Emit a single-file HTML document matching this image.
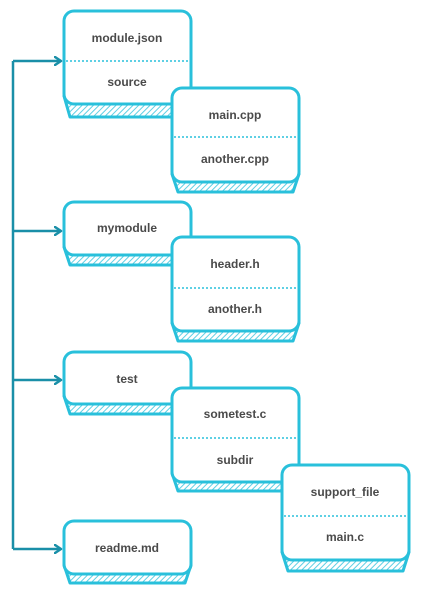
<!DOCTYPE html>
<html><head><meta charset="utf-8"><style>
html,body{margin:0;padding:0;background:#fff;}
svg{display:block;}
text{font-family:"Liberation Sans",sans-serif;font-size:12px;fill:#4a4a4a;text-anchor:middle;font-weight:bold;}
</style></head><body>
<svg width="423" height="597" viewBox="0 0 423 597" xmlns="http://www.w3.org/2000/svg">
<defs>
<pattern id="h" width="4" height="4" patternUnits="userSpaceOnUse" patternTransform="rotate(45)">
<rect width="4" height="4" fill="#fff"/>
<line x1="0" y1="0" x2="0" y2="4" stroke="#5fcfe4" stroke-width="2"/>
</pattern>
<marker id="ar" markerWidth="10" markerHeight="10" refX="7" refY="5" orient="auto" markerUnits="userSpaceOnUse">
<path d="M1,1 L7,5 L1,9" fill="none" stroke="#1a8fa8" stroke-width="2.5" stroke-linecap="round" stroke-linejoin="round"/>
</marker>
</defs>
<g fill="none" stroke="#1a8fa8" stroke-width="2.5">
<path d="M13,61 L13,549"/>
<path d="M13,61 L61,61" marker-end="url(#ar)"/>
<path d="M13,231 L61,231" marker-end="url(#ar)"/>
<path d="M13,380 L61,380" marker-end="url(#ar)"/>
<path d="M13,549 L61,549" marker-end="url(#ar)"/>
</g>
<g stroke="#29c0db" stroke-width="3" stroke-linejoin="round">
<!-- A -->
<path d="M64,96 L191,96 L185,117 L70,117 Z" fill="url(#h)"/>
<rect x="64" y="11" width="127" height="93" rx="10" fill="#fff"/>
<line x1="66" y1="61" x2="189" y2="61" stroke-width="1.5" stroke-dasharray="2,2"/>
<!-- B -->
<path d="M172,174 L299,174 L293,192 L178,192 Z" fill="url(#h)"/>
<rect x="172" y="88" width="127" height="94" rx="10" fill="#fff"/>
<line x1="174" y1="137" x2="297" y2="137" stroke-width="1.5" stroke-dasharray="2,2"/>
<!-- C -->
<path d="M64,247 L191,247 L185,265 L70,265 Z" fill="url(#h)"/>
<rect x="64" y="202" width="127" height="53" rx="10" fill="#fff"/>
<!-- D -->
<path d="M172,323 L299,323 L293,341 L178,341 Z" fill="url(#h)"/>
<rect x="172" y="237" width="127" height="94" rx="10" fill="#fff"/>
<line x1="174" y1="288" x2="297" y2="288" stroke-width="1.5" stroke-dasharray="2,2"/>
<!-- E -->
<path d="M64,396 L191,396 L185,414 L70,414 Z" fill="url(#h)"/>
<rect x="64" y="352" width="127" height="52" rx="10" fill="#fff"/>
<!-- F -->
<path d="M172,473 L299,473 L293,491 L178,491 Z" fill="url(#h)"/>
<rect x="172" y="388" width="127" height="94" rx="10" fill="#fff"/>
<line x1="174" y1="438" x2="297" y2="438" stroke-width="1.5" stroke-dasharray="2,2"/>
<!-- H -->
<path d="M64,565 L191,565 L185,583 L70,583 Z" fill="url(#h)"/>
<rect x="64" y="521" width="127" height="53" rx="10" fill="#fff"/>
<!-- G -->
<path d="M282,552 L409,552 L403,571 L288,571 Z" fill="url(#h)"/>
<rect x="282" y="465" width="127" height="95" rx="10" fill="#fff"/>
<line x1="284" y1="516" x2="407" y2="516" stroke-width="1.5" stroke-dasharray="2,2"/>
</g>
<text x="127" y="42">module.json</text>
<text x="127" y="86">source</text>
<text x="235" y="119">main.cpp</text>
<text x="235" y="163">another.cpp</text>
<text x="127" y="232">mymodule</text>
<text x="235" y="268">header.h</text>
<text x="235" y="313">another.h</text>
<text x="127" y="383">test</text>
<text x="235" y="418">sometest.c</text>
<text x="235" y="464">subdir</text>
<text x="345" y="496">support_file</text>
<text x="345" y="541">main.c</text>
<text x="127" y="552">readme.md</text>
</svg>
</body></html>
